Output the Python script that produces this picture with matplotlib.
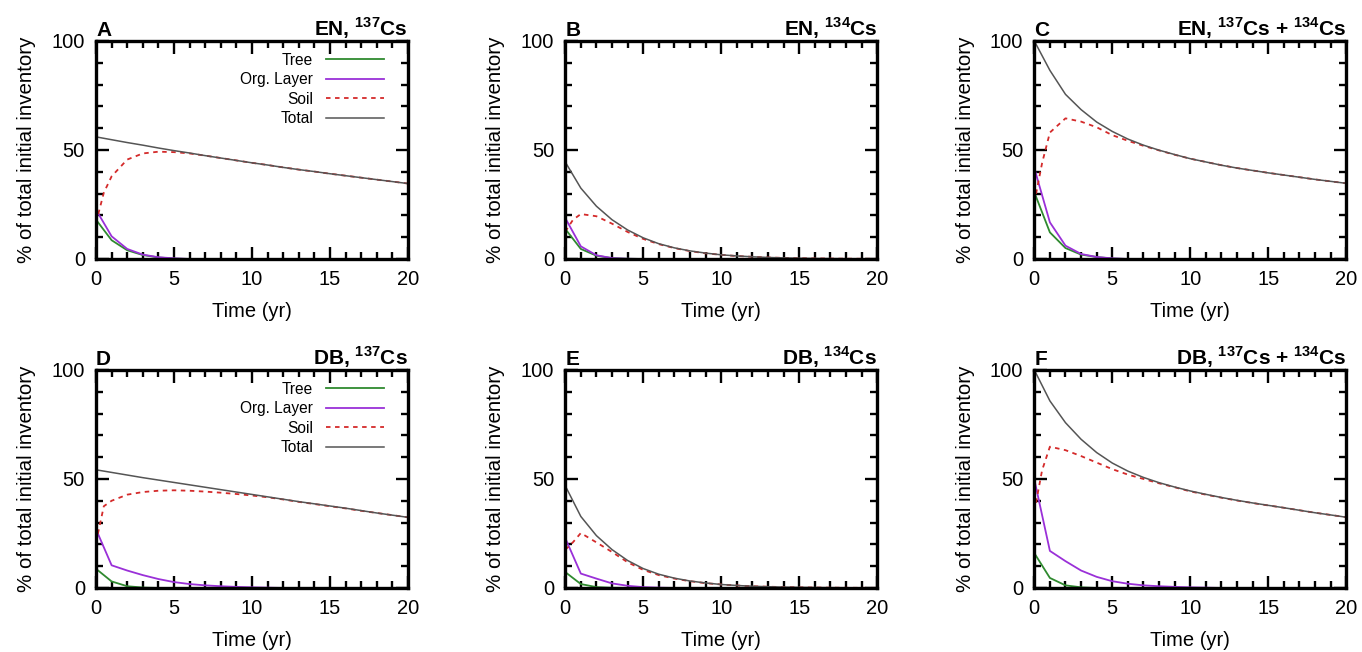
import matplotlib
matplotlib.use("Agg")
import matplotlib.pyplot as plt
from matplotlib.ticker import MultipleLocator

plt.rcParams['font.family'] = ['Liberation Sans', 'DejaVu Sans']
plt.rcParams['mathtext.fontset'] = 'custom'
plt.rcParams['mathtext.rm'] = 'Liberation Sans'
plt.rcParams['mathtext.bf'] = 'Liberation Sans:bold'

# time axes (yr); soil is sampled with an extra half-year point
years = list(range(21))
soil_years = [0, 0.5] + list(range(1, 21))

# --- EN, 137Cs (A)
a_tree  = [18.0, 8.6, 4.0, 1.8, 0.7, 0.2, 0.0]
a_org   = [22.6, 10.4, 4.6, 2.0, 0.8, 0.3, 0.0]
a_soil  = [16.6, 30.4, 37.9, 45.6, 48.4, 49.2, 49.0, 48.4, 47.4, 46.3, 45.2,
           44.1, 43.1, 42.0, 41.0, 40.1, 39.1, 38.2, 37.3, 36.4, 35.5, 34.6]
a_total = [56.0, 54.7, 53.4, 52.2, 50.9, 49.7, 48.6, 47.4, 46.3, 45.2, 44.1,
           43.1, 42.0, 41.0, 40.1, 39.1, 38.2, 37.3, 36.4, 35.5, 34.6]

# --- EN, 134Cs (B)
b_tree  = [13.8, 4.6, 1.5, 0.4, 0.1, 0.0]
b_org   = [18.8, 5.8, 1.7, 0.4, 0.1, 0.0]
b_soil  = [12.5, 18.0, 20.6, 19.6, 16.2, 12.4, 9.2, 6.8, 5.0, 3.6, 2.6,
           1.9, 1.35, 1.0, 0.7, 0.5, 0.36, 0.26, 0.19, 0.13, 0.1, 0.07]
b_total = [44.5, 32.5, 24.2, 18.0, 13.3, 9.7, 7.0, 5.1, 3.7, 2.7, 1.9,
           1.4, 1.0, 0.7, 0.5, 0.36, 0.26, 0.19, 0.13, 0.1, 0.07]

# --- EN, 137Cs + 134Cs (C)
c_tree  = [30.6, 12.2, 5.0, 2.0, 0.9, 0.2, 0.0]
c_org   = [41.7, 16.8, 6.1, 2.3, 0.9, 0.3, 0.0]
c_soil  = [25.8, 44.0, 58.0, 64.5, 63.0, 60.4, 56.8, 54.2, 51.9, 49.8, 47.8,
           46.0, 44.5, 43.0, 41.7, 40.6, 39.5, 38.5, 37.5, 36.5, 35.6, 34.7]
c_total = [100.0, 86.5, 75.5, 68.5, 62.8, 58.5, 55.0, 52.2, 49.9, 47.9, 46.0,
           44.5, 43.0, 41.7, 40.6, 39.5, 38.5, 37.5, 36.5, 35.6, 34.7]

# --- DB, 137Cs (D)
d_tree  = [8.8, 3.0, 0.8, 0.2, 0.0]
d_org   = [26.9, 10.4, 8.0, 5.9, 4.1, 2.7, 1.8, 1.2, 0.8, 0.5, 0.3, 0.15, 0.0]
d_soil  = [20.8, 37.5, 40.0, 42.8, 44.0, 44.6, 44.8, 44.6, 44.2, 43.7, 43.1,
           42.4, 41.6, 40.6, 39.5, 38.5, 37.5, 36.5, 35.4, 34.4, 33.4, 32.4]
d_total = [54.2, 53.0, 51.8, 50.6, 49.5, 48.4, 47.3, 46.2, 45.1, 44.0, 42.9,
           41.8, 40.7, 39.6, 38.6, 37.6, 36.6, 35.5, 34.4, 33.4, 32.4]

# --- DB, 134Cs (E)
e_tree  = [7.3, 1.8, 0.4, 0.1, 0.0]
e_org   = [22.9, 6.6, 4.3, 2.1, 1.0, 0.4, 0.15, 0.0]
e_soil  = [17.5, 21.0, 25.2, 20.9, 16.5, 11.8, 8.3, 5.9, 4.3, 3.1, 2.2,
           1.6, 1.15, 0.8, 0.58, 0.41, 0.29, 0.21, 0.15, 0.1, 0.07, 0.05]
e_total = [46.9, 32.8, 24.0, 17.6, 12.6, 8.9, 6.3, 4.5, 3.2, 2.3, 1.6,
           1.15, 0.8, 0.58, 0.41, 0.29, 0.21, 0.15, 0.1, 0.07, 0.05]

# --- DB, 137Cs + 134Cs (F)
f_tree  = [16.0, 4.6, 1.2, 0.3, 0.0]
f_org   = [49.8, 17.0, 12.3, 8.0, 5.1, 3.1, 1.95, 1.2, 0.8, 0.5, 0.3, 0.15, 0.0]
f_soil  = [35.0, 54.0, 64.8, 63.2, 60.5, 57.5, 54.5, 52.0, 50.0, 48.0, 46.2,
           44.3, 42.8, 41.4, 40.1, 38.95, 37.85, 36.8, 35.65, 34.5, 33.5, 32.45]
f_total = [100.0, 85.8, 75.8, 68.2, 62.1, 57.3, 53.6, 50.7, 48.3, 46.3, 44.5,
           42.95, 41.5, 40.2, 39.0, 37.9, 36.8, 35.65, 34.5, 33.5, 32.45]

letters = ['A', 'B', 'C', 'D', 'E', 'F']
titles = [r'EN, $^{\mathbf{137}}$Cs', r'EN, $^{\mathbf{134}}$Cs',
          r'EN, $^{\mathbf{137}}$Cs + $^{\mathbf{134}}$Cs',
          r'DB, $^{\mathbf{137}}$Cs', r'DB, $^{\mathbf{134}}$Cs',
          r'DB, $^{\mathbf{137}}$Cs + $^{\mathbf{134}}$Cs']
series = [(a_tree, a_org, a_soil, a_total), (b_tree, b_org, b_soil, b_total),
          (c_tree, c_org, c_soil, c_total), (d_tree, d_org, d_soil, d_total),
          (e_tree, e_org, e_soil, e_total), (f_tree, f_org, f_soil, f_total)]
with_legend = [True, False, False, True, False, False]

col_tree  = '#2f8a2f'
col_org   = '#9a30d8'
col_soil  = '#d42a2a'
col_total = '#555555'

fig = plt.figure(figsize=(13.62, 6.52), dpi=100)

lefts = [0.0705, 0.4150, 0.7594]
bottoms = [0.6028, 0.0982]
w, h = 0.229, 0.3344

for i in range(6):
	ax = fig.add_axes([lefts[i % 3], bottoms[i // 3], w, h])
	tree, org, soil, total = series[i]

	ax.plot(years[:len(tree)], tree, color=col_tree, lw=1.3, label='Tree')
	ax.plot(years[:len(org)], org, color=col_org, lw=1.3, label='Org. Layer')
	ax.plot(soil_years, soil, color=col_soil, lw=1.3, ls=(0, (2.5, 2.5)), label='Soil')
	ax.plot(years, total, color=col_total, lw=1.1, label='Total')

	ax.set_xlim(0, 20)
	ax.set_ylim(0, 100)
	ax.xaxis.set_major_locator(MultipleLocator(5))
	ax.xaxis.set_minor_locator(MultipleLocator(1))
	ax.yaxis.set_major_locator(MultipleLocator(50))
	ax.yaxis.set_minor_locator(MultipleLocator(10))
	ax.tick_params(which='both', direction='in', top=True, right=True,
			width=1.7, labelsize=14.5, pad=8)
	ax.tick_params(which='major', length=9)
	ax.tick_params(which='minor', length=5)
	for sp in ax.spines.values():
		sp.set_linewidth(2.4)

	ax.set_xlabel('Time (yr)', fontsize=14.5, labelpad=9)
	ax.set_ylabel('% of total initial inventory', fontsize=14.8, labelpad=11)
	ax.set_title(letters[i], loc='left', fontweight='bold', fontsize=15, pad=3)
	ax.set_title(titles[i], loc='right', fontweight='bold', fontsize=15, pad=3)

	if with_legend[i]:
		ax.legend(loc='upper right', bbox_to_anchor=(0.923, 0.945),
				markerfirst=False, frameon=False, fontsize=11.2,
				borderpad=0, borderaxespad=0, handlelength=3.7,
				handletextpad=0.85, labelspacing=0.28)

fig.savefig('out.png', dpi=100)
